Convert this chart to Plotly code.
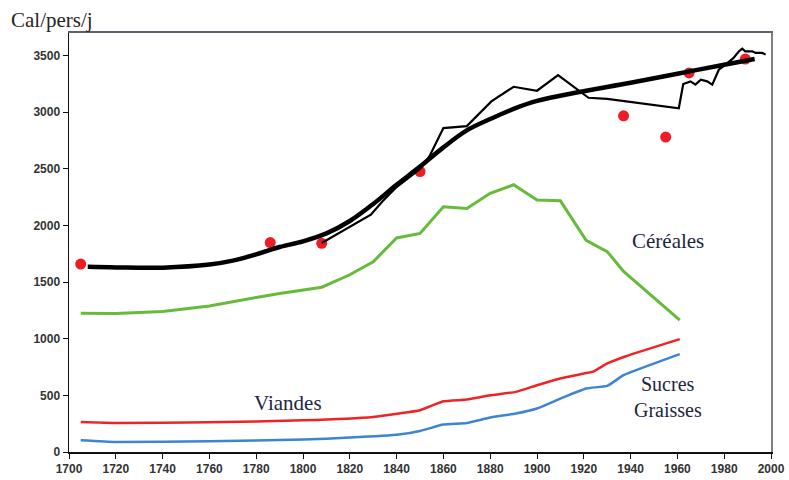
import plotly.graph_objects as go

# ---- data ----
smooth_years = [1708, 1720, 1740, 1760, 1770, 1780, 1790, 1800, 1810, 1820, 1830, 1840, 1850, 1860, 1870, 1880, 1890, 1900, 1917, 1940, 1960, 1980, 1993]
smooth_vals  = [1635, 1630, 1628, 1655, 1690, 1745, 1810, 1860, 1930, 2040, 2190, 2360, 2520, 2690, 2840, 2940, 3030, 3100, 3175, 3260, 3340, 3420, 3470]

obs_years = [1808, 1829, 1834, 1840, 1850, 1854, 1860, 1870, 1880.5, 1890, 1900, 1909, 1922, 1930, 1960.6, 1962.5, 1965.6, 1967.7, 1970, 1972.7, 1974.9, 1976.3, 1977.7, 1980.6, 1984, 1986.3, 1987.7, 1989, 1992, 1993.4, 1996.3, 1997.7]
obs_vals  = [1845, 2095, 2215, 2340, 2500, 2610, 2860, 2878, 3096, 3225, 3190, 3328, 3128, 3118, 3035, 3250, 3273, 3244, 3288, 3273, 3244, 3303, 3376, 3420, 3480, 3538, 3562, 3538, 3538, 3524, 3524, 3509]

dot_years = [1705, 1786, 1808, 1850, 1937, 1955, 1965, 1989]
dot_vals  = [1660, 1849, 1843, 2477, 2969, 2781, 3347, 3470]

cer_years = [1705, 1720, 1740, 1760, 1780, 1790, 1808, 1820, 1830, 1840, 1850, 1860, 1870, 1880, 1890, 1900, 1910, 1921, 1930, 1937, 1961]
cer_vals  = [1225, 1222, 1240, 1290, 1365, 1400, 1455, 1565, 1680, 1890, 1930, 2165, 2150, 2285, 2360, 2225, 2218, 1870, 1770, 1595, 1165]

via_years = [1705, 1720, 1760, 1800, 1830, 1841, 1850, 1860, 1870, 1880, 1891, 1900, 1910, 1920, 1924, 1930, 1938, 1961]
via_vals  = [265, 257, 262, 280, 310, 340, 369, 448, 463, 501, 531, 590, 649, 693, 710, 782, 846, 997]

gra_years = [1705, 1720, 1760, 1800, 1820, 1841, 1850, 1860, 1870, 1880, 1891, 1900, 1910, 1921, 1930, 1937, 1961]
gra_vals  = [103, 88, 95, 110, 127, 154, 186, 242, 257, 304, 340, 384, 472, 561, 584, 678, 864]

x_ticks = list(range(1700, 2001, 20))
y_ticks = list(range(0, 3501, 500))

fig = go.Figure()
fig.add_trace(go.Scatter(x=cer_years, y=cer_vals, mode="lines", line=dict(color="#66bb3a", width=3), hoverinfo="skip"))
fig.add_trace(go.Scatter(x=via_years, y=via_vals, mode="lines", line=dict(color="#ee2424", width=2.5, shape="spline", smoothing=0.4), hoverinfo="skip"))
fig.add_trace(go.Scatter(x=gra_years, y=gra_vals, mode="lines", line=dict(color="#3d84d2", width=2.5, shape="spline", smoothing=0.4), hoverinfo="skip"))
fig.add_trace(go.Scatter(x=dot_years, y=dot_vals, mode="markers", marker=dict(color="#ee1c24", size=11), hoverinfo="skip"))
fig.add_trace(go.Scatter(x=obs_years, y=obs_vals, mode="lines", line=dict(color="#000000", width=2.2), hoverinfo="skip"))
fig.add_trace(go.Scatter(x=smooth_years, y=smooth_vals, mode="lines", line=dict(color="#000000", width=4.5, shape="spline", smoothing=1), hoverinfo="skip"))
# empty trace on overlay axes, which only draw the gray top/right frame
fig.add_trace(go.Scatter(x=[None], y=[None], xaxis="x2", yaxis="y2", mode="lines", hoverinfo="skip"))

serif = "Liberation Serif, Times New Roman, serif"
txtcol = "#1e2540"
fig.add_annotation(x=1956, y=1864, text="Céréales", showarrow=False, font=dict(family=serif, size=21, color=txtcol))
fig.add_annotation(x=1793.5, y=430, text="Viandes", showarrow=False, font=dict(family=serif, size=21, color=txtcol))
fig.add_annotation(x=1956, y=600, text="Sucres", showarrow=False, font=dict(family=serif, size=20, color=txtcol))
fig.add_annotation(x=1956, y=375, text="Graisses", showarrow=False, font=dict(family=serif, size=20, color=txtcol))
fig.add_annotation(xref="paper", yref="paper", x=-0.085, y=1.03, xanchor="left", yanchor="middle",
                   text="Cal/pers/j", showarrow=False, font=dict(family=serif, size=21, color="#2a2418"))

tickfont = dict(family="Liberation Sans, Arial, sans-serif", size=12, color="#333333", weight="bold")
fig.update_layout(
    xaxis=dict(range=[1700, 2000], tickvals=x_ticks, ticktext=[str(v) for v in x_ticks],
               showgrid=False, zeroline=False, showline=True, linecolor="#111111", linewidth=1.5,
               ticks="outside", ticklen=5, tickcolor="#111111", tickfont=tickfont, automargin=False),
    yaxis=dict(range=[0, 3700], tickvals=y_ticks, ticktext=[str(v) for v in y_ticks],
               showgrid=False, zeroline=False, showline=True, linecolor="#111111", linewidth=1.5,
               ticks="outside", ticklen=5, tickcolor="#111111", tickfont=tickfont, automargin=False),
    xaxis2=dict(overlaying="x", side="top", range=[1700, 2000], showline=True, linecolor="#5f5f70",
                linewidth=2, showticklabels=False, ticks="", showgrid=False, zeroline=False, automargin=False),
    yaxis2=dict(overlaying="y", side="right", range=[0, 3700], showline=True, linecolor="#808080",
                linewidth=1.5, showticklabels=False, ticks="", showgrid=False, zeroline=False, automargin=False),
    width=789, height=480, showlegend=False, hovermode=False,
    margin=dict(l=69, r=18, t=33, b=28, autoexpand=False),
    paper_bgcolor="white", plot_bgcolor="white")
fig.write_html("out.html", config={"displayModeBar": False, "staticPlot": True},
               post_script="document.body.style.margin='0px';document.body.style.overflow='hidden';")
